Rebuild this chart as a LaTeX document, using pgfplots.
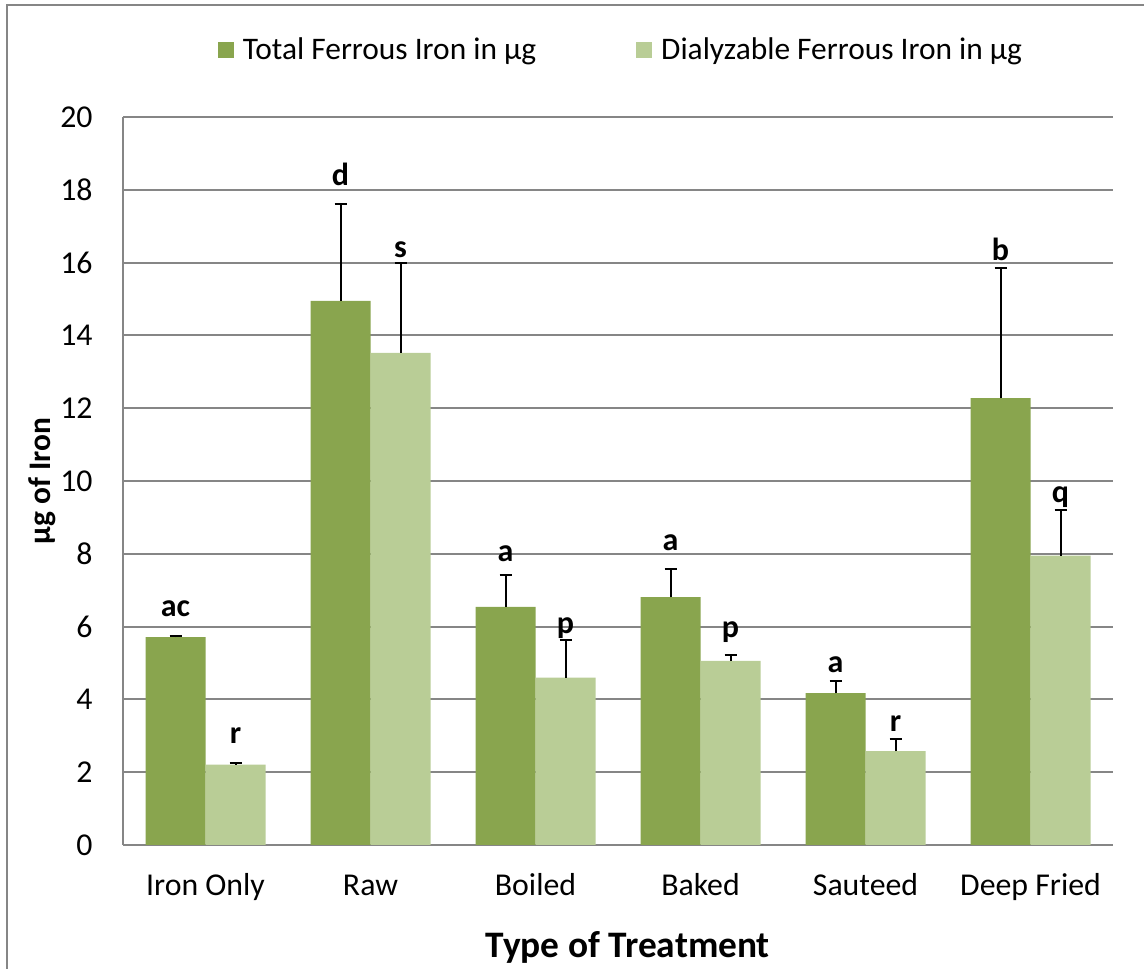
\documentclass[border=0pt]{standalone}
\usepackage{pgfplots}
\pgfplotsset{compat=1.18}
\usepackage{pgfplotstable}
\usepackage{fontspec}
\setmainfont{Carlito}
\definecolor{dg}{RGB}{137,165,78}
\definecolor{lg}{RGB}{185,205,150}
\definecolor{gr}{RGB}{134,134,134}
\pgfplotstableread{
x y err ly lbl
0 5.71 0.04 6.27 ac
1 14.95 2.66 18.13 d
2 6.54 0.88 7.78 a
3 6.81 0.78 8.10 a
4 4.17 0.34 4.74 a
5 12.28 3.56 16.07 b
}\totaldata
\pgfplotstableread{
x y err ly lbl
0 2.21 0.03 2.80 r
1 13.52 2.48 16.14 s
2 4.60 1.03 5.82 p
3 5.06 0.16 5.69 p
4 2.58 0.33 3.11 r
5 7.95 1.24 9.40 q
}\dialdata
\begin{document}
\begin{tikzpicture}[x=1pt,y=1pt]
\useasboundingbox (0,0) rectangle (572,484);
\draw[gr, line width=1pt] (3.5,-20) -- (3.5,481.5) -- (620,481.5);
\begin{axis}[
  at={(61.5pt,61.5pt)}, anchor=south west,
  scale only axis, width=495pt, height=364pt,
  ybar=0pt, bar width=30pt,
  xmin=-0.5, xmax=5.5, ymin=0, ymax=20,
  ytick={0,2,...,20},
  xtick={0,1,2,3,4,5},
  xticklabels={Iron Only,Raw,Boiled,Baked,Sauteed,Deep Fried},
  major tick length=0pt,
  axis x line*=bottom, axis y line*=left,
  axis line style={gr, line width=1pt},
  ymajorgrids, grid style={gr, line width=1pt},
  /pgf/number format/assume math mode=true,
  tick label style={font=\fontsize{15.9}{18}\selectfont, black},
  yticklabel style={anchor=east, inner sep=0pt, xshift=-15pt},
  xticklabel style={anchor=base, inner sep=0pt, yshift=-25pt},
  xlabel={Type of Treatment},
  ylabel={µg of Iron},
  every axis x label/.style={at={(axis description cs:0.51,0)}, anchor=base, yshift=-56pt, font=\fontsize{18.7}{22}\selectfont\bfseries},
  every axis y label/.style={at={(axis description cs:-0.0737,0.5)}, rotate=90, anchor=base, font=\fontsize{15.7}{18}\selectfont\bfseries},
  legend style={at={(0.502,1.092)}, anchor=center, draw=none, fill=none,
    font=\fontsize{15.7}{18}\selectfont, legend columns=2,
    nodes={inner sep=0pt},
    /tikz/every odd column/.append style={column sep=4.5pt},
    /tikz/every even column/.append style={column sep=50pt}},
  point meta=explicit symbolic,
  nodes near coords,
  visualization depends on={(\thisrow{ly}-\thisrow{y})*18.2 \as \dy},
  every node near coord/.append style={anchor=base, inner sep=0pt, yshift={\dy*1pt}, font=\fontsize{16}{18}\selectfont\bfseries, black},
  error bars/y dir=plus, error bars/y explicit,
  error bars/error bar style={black, line width=1pt},
  error bars/error mark options={black, rotate=90, mark size=3pt, line width=1pt},
]
\addplot[fill=dg, draw=none, legend image code/.code={\fill[dg] (0pt,-4pt) rectangle (8pt,4pt);}]
  table[x=x, y=y, y error=err, meta=lbl] {\totaldata};
\addplot[fill=lg, draw=none, legend image code/.code={\fill[lg] (0pt,-4pt) rectangle (8pt,4pt);}]
  table[x=x, y=y, y error=err, meta=lbl] {\dialdata};
\legend{Total Ferrous Iron in µg, Dialyzable Ferrous Iron in µg}
\end{axis}
\end{tikzpicture}
\end{document}
